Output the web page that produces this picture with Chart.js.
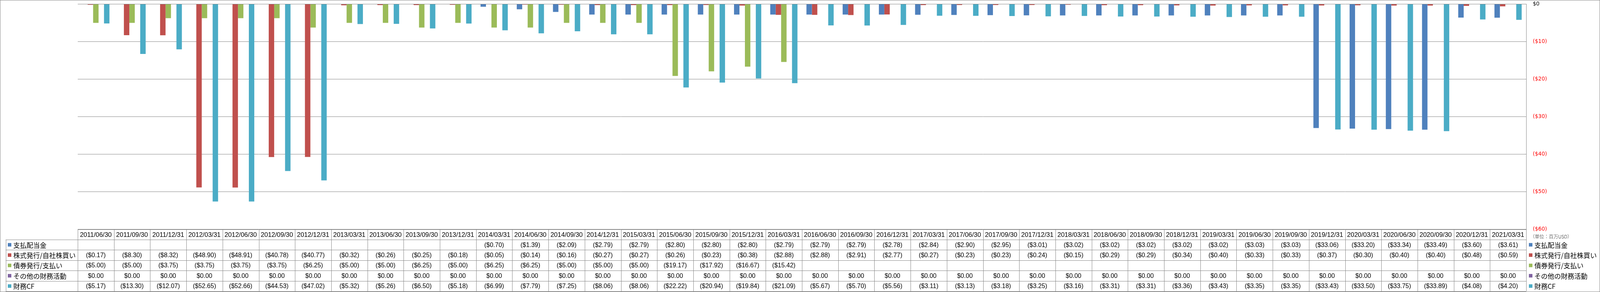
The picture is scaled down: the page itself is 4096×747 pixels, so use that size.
<!DOCTYPE html>
<html lang="ja">
<head>
<meta charset="utf-8">
<title>財務CF</title>
<script src="https://cdn.jsdelivr.net/npm/chart.js@4.4.1/dist/chart.umd.min.js"></script>
<style>
  html, body { margin: 0; padding: 0; background: #fff; overflow: hidden; }
  #wrap { position: relative; width: 4096px; height: 747px; }
</style>
</head>
<body>
<div id="wrap"><canvas id="cfChart"></canvas></div>
<script>
/**
 * 1. DATA (百万USD)
 */
const periods = [
  '2011/06/30', '2011/09/30', '2011/12/31', '2012/03/31', '2012/06/30', '2012/09/30', '2012/12/31',
  '2013/03/31', '2013/06/30', '2013/09/30', '2013/12/31', '2014/03/31', '2014/06/30', '2014/09/30',
  '2014/12/31', '2015/03/31', '2015/06/30', '2015/09/30', '2015/12/31', '2016/03/31', '2016/06/30',
  '2016/09/30', '2016/12/31', '2017/03/31', '2017/06/30', '2017/09/30', '2017/12/31', '2018/03/31',
  '2018/06/30', '2018/09/30', '2018/12/31', '2019/03/31', '2019/06/30', '2019/09/30', '2019/12/31',
  '2020/03/31', '2020/06/30', '2020/09/30', '2020/12/31', '2021/03/31'
];

const seriesNames = ['支払配当金', '株式発行/自社株買い', '債券発行/支払い', 'その他の財務活動', '財務CF'];

const dividends = [
  null, null, null, null, null, null, null, null, null, null, null,
  -0.70, -1.39, -2.09, -2.79, -2.79, -2.80, -2.80, -2.80, -2.79, -2.79,
  -2.79, -2.78, -2.84, -2.90, -2.95, -3.01, -3.02, -3.02, -3.02, -3.02,
  -3.02, -3.03, -3.03, -33.06, -33.20, -33.34, -33.49, -3.60, -3.61
];
const stockIssue = [
  -0.17, -8.30, -8.32, -48.90, -48.91, -40.78, -40.77, -0.32, -0.26, -0.25,
  -0.18, -0.05, -0.14, -0.16, -0.27, -0.27, -0.26, -0.23, -0.38, -2.88,
  -2.88, -2.91, -2.77, -0.27, -0.23, -0.23, -0.24, -0.15, -0.29, -0.29,
  -0.34, -0.40, -0.33, -0.33, -0.37, -0.30, -0.40, -0.40, -0.48, -0.59
];
const bondIssue = [
  -5.00, -5.00, -3.75, -3.75, -3.75, -3.75, -6.25, -5.00, -5.00, -6.25,
  -5.00, -6.25, -6.25, -5.00, -5.00, -5.00, -19.17, -17.92, -16.67, -15.42,
  null, null, null, null, null, null, null, null, null, null,
  null, null, null, null, null, null, null, null, null, null
];
const otherFin = [
  0, 0, 0, 0, 0, 0, 0, 0, 0, 0, 0, 0, 0, 0, 0, 0, 0, 0, 0, 0,
  0, 0, 0, 0, 0, 0, 0, 0, 0, 0, 0, 0, 0, 0, 0, 0, 0, 0, 0, 0
];
const financingCF = [
  -5.17, -13.30, -12.07, -52.65, -52.66, -44.53, -47.02, -5.32, -5.26, -6.50,
  -5.18, -6.99, -7.79, -7.25, -8.06, -8.06, -22.22, -20.94, -19.84, -21.09,
  -5.67, -5.70, -5.56, -3.11, -3.13, -3.18, -3.25, -3.16, -3.31, -3.31,
  -3.36, -3.43, -3.35, -3.35, -33.43, -33.50, -33.75, -33.89, -4.08, -4.20
];

const yTicks = [0, -10, -20, -30, -40, -50, -60];
const unitLabel = '（単位：百万USD）';

/**
 * 2. STYLE & LAYOUT (window px = reference px * 0.697)
 */
const COLORS = ['#4F81BD', '#C0504D', '#9BBB59', '#8064A2', '#4BACC6'];
const LINE = '#868686';
const W = 4096, H = 747;
const PLOT = { left: 199, right: 3907, top: 10.5, bottom: 586 };
const TABLE = { top: 587, headH: 26, rowH: 26.4, legendLeft: 14.5 };
const NUM_FONT = '"Liberation Sans", Arial, sans-serif';
const JP_FONT = '"Noto Sans CJK JP", sans-serif';

function money(v) {
  if (v === null || v === undefined) return '';
  if (v === 0) return '$0.00';
  return v < 0 ? '($' + Math.abs(v).toFixed(2) + ')' : '$' + v.toFixed(2);
}

const allSeries = [dividends, stockIssue, bondIssue, otherFin, financingCF];

/**
 * 3. DATA TABLE + LEGEND (drawn after the chart)
 */
const px = v => Math.round(v) + 0.5;

const tablePlugin = {
  id: 'dataTable',
  afterDraw(chart) {
    const { ctx, chartArea } = chart;
    const x = chart.scales.x;
    const n = periods.length;
    const colW = (chartArea.right - chartArea.left) / n;
    const tTop = TABLE.top;
    const hBot = tTop + TABLE.headH;
    const tBot = hBot + TABLE.rowH * allSeries.length;

    ctx.save();
    ctx.strokeStyle = LINE;
    ctx.lineWidth = 1;

    // horizontal lines
    ctx.beginPath();
    ctx.moveTo(chartArea.left, px(tTop));
    ctx.lineTo(chartArea.right, px(tTop));
    for (let r = 0; r <= allSeries.length; r++) {
      const yy = px(hBot + r * TABLE.rowH);
      ctx.moveTo(TABLE.legendLeft, yy);
      ctx.lineTo(chartArea.right, yy);
    }
    // vertical lines
    for (let i = 0; i <= n; i++) {
      const xx = px(chartArea.left + i * colW);
      ctx.moveTo(xx, tTop);
      ctx.lineTo(xx, tBot);
    }
    ctx.moveTo(px(TABLE.legendLeft), hBot);
    ctx.lineTo(px(TABLE.legendLeft), tBot);
    ctx.stroke();

    // header dates
    ctx.fillStyle = '#000';
    ctx.textAlign = 'center';
    ctx.textBaseline = 'middle';
    ctx.font = '16.5px ' + NUM_FONT;
    periods.forEach((p, i) => {
      ctx.fillText(p, x.getPixelForValue(i), tTop + TABLE.headH / 2 + 1);
    });

    // value cells
    ctx.font = '16px ' + NUM_FONT;
    allSeries.forEach((arr, r) => {
      const cy = hBot + TABLE.rowH * (r + 0.5) + 1;
      arr.forEach((v, i) => {
        const s = money(v);
        if (s) ctx.fillText(s, x.getPixelForValue(i), cy);
      });
    });

    // legend keys inside table + legend on the right
    ctx.textAlign = 'left';
    ctx.font = '17px ' + JP_FONT;
    seriesNames.forEach((name, r) => {
      const cy = hBot + TABLE.rowH * (r + 0.5);
      ctx.fillStyle = COLORS[r];
      ctx.fillRect(20, cy - 4.5, 9, 9);
      ctx.fillRect(3914, cy - 4.5, 9, 9);
      ctx.fillStyle = '#000';
      ctx.fillText(name, 34, cy + 1);
      ctx.fillText(name, 3928, cy + 1);
    });

    // unit note
    ctx.font = '300 12px ' + JP_FONT;
    ctx.fillStyle = '#222';
    ctx.fillText(unitLabel, 3917, 605.5);

    // outer frame
    ctx.strokeStyle = LINE;
    ctx.strokeRect(0.5, 0.5, W - 1, H - 1);
    ctx.restore();
  }
};

/**
 * 4. CHART
 */
const ctx = document.getElementById('cfChart').getContext('2d');
const cfChart = new Chart(ctx, {
  type: 'bar',
  data: {
    labels: periods,
    datasets: allSeries.map((arr, i) => ({
      label: seriesNames[i],
      data: arr,
      backgroundColor: COLORS[i],
      borderWidth: 0,
      categoryPercentage: 0.752,
      barPercentage: 1
    }))
  },
  options: {
    responsive: true,
    maintainAspectRatio: false,
    animation: false,
    events: [],
    layout: {
      padding: { left: PLOT.left, top: PLOT.top, right: 0, bottom: H - PLOT.bottom }
    },
    plugins: {
      legend: { display: false },
      tooltip: { enabled: false }
    },
    scales: {
      x: {
        display: false
      },
      y: {
        position: 'right',
        min: -60,
        max: 0,
        afterBuildTicks: s => { s.ticks = yTicks.map(v => ({ value: v })); },
        afterFit: s => {
          s.width = W - PLOT.right;
          s.paddingTop = 0;
          s.paddingBottom = 0;
        },
        grid: { color: LINE, lineWidth: 1, drawTicks: false },
        border: { display: true, color: LINE, width: 1 },
        ticks: {
          padding: 17,
          font: { family: '"DejaVu Sans", Verdana, sans-serif', size: 13.5 },
          color: c => (c.tick && c.tick.value === 0 ? '#000' : '#FF0000'),
          callback: v => (v === 0 ? '$0' : '($' + Math.abs(v) + ')')
        }
      }
    }
  },
  plugins: [tablePlugin]
});
</script>
</body>
</html>
